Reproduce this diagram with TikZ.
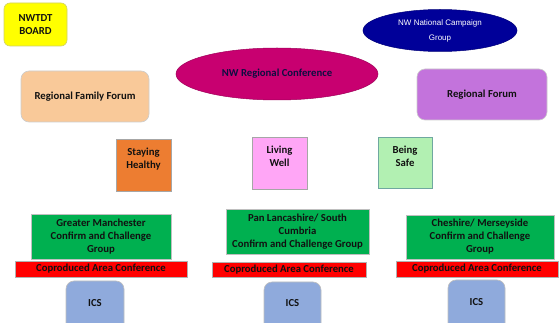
\documentclass[tikz,border=0pt]{standalone}
\usepackage{fontspec}
\setmainfont{Carlito}
\newfontfamily\arialfont{Liberation Sans}
\usetikzlibrary{shapes.geometric}
\definecolor{cyellow}{HTML}{FFFF00}
\definecolor{cpeach}{HTML}{F9C999}
\definecolor{cmagenta}{HTML}{C80070}
\definecolor{cnavy}{HTML}{000099}
\definecolor{corchid}{HTML}{C373DC}
\definecolor{corange}{HTML}{ED7D31}
\definecolor{cpink}{HTML}{FFA6F6}
\definecolor{clgreen}{HTML}{B2F0B2}
\definecolor{cgreen}{HTML}{00B050}
\definecolor{cred}{HTML}{FF0000}
\definecolor{cblue}{HTML}{8FAADC}
\definecolor{ctext}{HTML}{111111}
\definecolor{csafeedge}{HTML}{6FA8A0}
\tikzset{
  boldtxt/.style={font=\fontsize{10.7}{13}\selectfont\bfseries, text=ctext, align=center},
  shapebox/.style={draw=gray!60, line width=0.6pt, inner sep=0pt, minimum width=#1},
  roundbox/.style={shapebox=#1, rounded corners=8pt},
  lbl/.style={boldtxt, inner sep=0pt},
}
\begin{document}
\begin{tikzpicture}[x=1pt,y=-1pt]
\useasboundingbox (0,0) rectangle (560,323);
\clip (0,0) rectangle (560,323);
\fill[white] (0,0) rectangle (560,323);
% top row
\node[roundbox=63pt, rounded corners=6pt, fill=cyellow, draw=cyellow!70!black!60, minimum height=43pt, boldtxt] (board) at (35.5,24.5) {NWTDT\\BOARD};
\node[roundbox=128pt, fill=cpeach, draw=gray!40, minimum height=51pt, boldtxt] (rff) at (85,96.5) {Regional Family Forum};
\node[ellipse, fill=cmagenta, draw=cmagenta!80!black, line width=0.5pt, minimum width=202pt, minimum height=52pt, inner sep=0pt, boldtxt, text=ctext!80!blue] (nwrc) at (277,74) {NW Regional Conference};
\node[ellipse, fill=cnavy, draw=cnavy!80!black, line width=0.5pt, minimum width=154pt, minimum height=42pt, inner sep=0pt, align=center, text=white, font=\arialfont\fontsize{8}{15}\selectfont] (nwnc) at (440,30.5) {NW National Campaign\\Group};
\node[roundbox=130pt, fill=corchid, draw=gray!40, minimum height=51pt, boldtxt] (rf) at (482,94.5) {Regional Forum};
% middle row
\node[shapebox=55pt, fill=corange, draw=gray!70, minimum height=52pt] (sh) at (143.5,165) {};
\node[lbl] (sht) at (143.5,159) {Staying\\Healthy};
\node[shapebox=55pt, fill=cpink, draw=gray!70, minimum height=52pt] (lw) at (279.5,163) {};
\node[lbl] (lwt) at (279.5,156) {Living\\Well};
\node[shapebox=54pt, fill=clgreen, draw=csafeedge, minimum height=51pt] (bs) at (405,162.5) {};
\node[lbl] (bst) at (405,156) {Being\\Safe};
% bottom groups
\node[shapebox=140pt, fill=cgreen, draw=gray!50, minimum height=45pt, boldtxt] (gm) at (101,236.5) {Greater Manchester\\Confirm and Challenge\\Group};
\node[shapebox=143pt, fill=cgreen, draw=gray!50, minimum height=45pt, boldtxt] (pl) at (297.5,231.5) {Pan Lancashire/ South\\Cumbria\\Confirm and Challenge Group};
\node[shapebox=148pt, fill=cgreen, draw=gray!50, minimum height=44pt, boldtxt] (cm) at (480,237) {Cheshire/ Merseyside\\Confirm and Challenge\\Group};
\node[shapebox=172pt, fill=cred, draw=gray!60, minimum height=16pt, boldtxt] (ca1) at (101,269) {Coproduced Area Conference};
\node[shapebox=154pt, fill=cred, draw=gray!60, minimum height=15pt, boldtxt] (ca2) at (289,269.5) {Coproduced Area Conference};
\node[shapebox=162pt, fill=cred, draw=gray!60, minimum height=16pt, boldtxt] (ca3) at (477,269) {Coproduced Area Conference};
\node[roundbox=58pt, fill=cblue, draw=gray!50, minimum height=60pt] (ics1) at (95,311) {};
\node[lbl] (ics1t) at (95,303) {ICS};
\node[roundbox=57pt, fill=cblue, draw=gray!50, minimum height=60pt] (ics2) at (292.5,312) {};
\node[lbl] (ics2t) at (292.5,303) {ICS};
\node[roundbox=57pt, fill=cblue, draw=gray!50, minimum height=60pt] (ics3) at (476.5,310) {};
\node[lbl] (ics3t) at (476.5,302) {ICS};
\end{tikzpicture}
\end{document}
